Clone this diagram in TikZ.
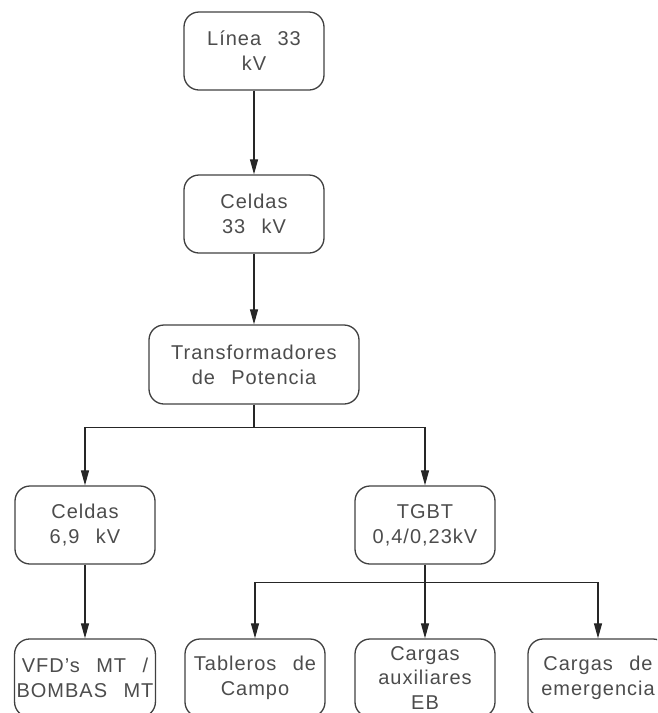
\documentclass[tikz,border=0pt]{standalone}
\usepackage{fontspec}
\setmainfont[LetterSpace=5,WordSpace=2.5]{Liberation Sans}
\usetikzlibrary{arrows.meta}
\begin{document}
\begin{tikzpicture}[x=1pt,y=-1pt,
  box/.style={draw=black!75,line width=1.3pt,rounded corners=15pt,
    minimum width=140pt,minimum height=78pt,align=center,inner sep=2pt,
    text=black!70,font=\fontsize{20}{25}\selectfont},
  conn/.style={line width=1.2pt,draw=black!85},
  arr/.style={conn,-{Triangle[length=15pt,width=8pt]}}]
\useasboundingbox (0,0) rectangle (657,713);
\clip (0,0) rectangle (657,713);
\node[box] (l1) at (254,51) {Línea 33\\kV};
\node[box] (c33) at (254,214) {Celdas\\33 kV};
\node[box,minimum width=210pt,minimum height=79pt] (tr) at (254,364.5) {Transformadores\\de Potencia};
\node[box] (c69) at (85,525) {Celdas\\6,9 kV};
\node[box] (tgbt) at (425,525) {TGBT\\0,4/0,23kV};
\node[box] (vfd) at (85,678) {VFD's MT /\\BOMBAS MT};
\node[box] (tab) at (255,678) {Tableros de\\Campo};
\node[box,font=\fontsize{20}{24.5}\selectfont,text depth=-3pt] (aux) at (425,678) {Cargas\\auxiliares\\EB};
\node[box] (emg) at (598,678) {Cargas de\\emergencia};
\draw[arr] (l1) -- (c33);
\draw[arr] (c33) -- (tr);
\draw[conn] (tr.south) -- ++(0,23) coordinate (j1);
\draw[arr] (j1) -| (c69.north);
\draw[arr] (j1) -| (tgbt.north);
\draw[arr] (c69) -- (vfd);
\draw[conn] (tgbt.south) -- ++(0,18) coordinate (j2);
\draw[arr] (j2) -| (tab.north);
\draw[arr] (j2) -- (aux.north);
\draw[arr] (j2) -| (emg.north);
\end{tikzpicture}
\end{document}
